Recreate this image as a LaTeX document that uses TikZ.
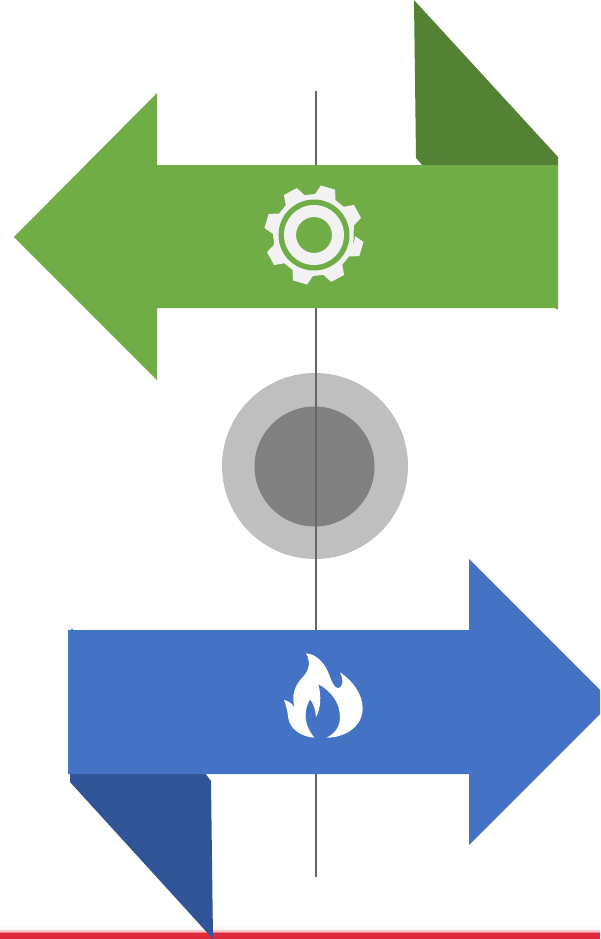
\documentclass[tikz,border=0pt]{standalone}
\definecolor{gA}{HTML}{70AD47}
\definecolor{gB}{HTML}{548235}
\definecolor{bA}{HTML}{4472C4}
\definecolor{bB}{HTML}{2F5597}
\definecolor{iconW}{HTML}{F2F2F2}
\definecolor{redbar}{HTML}{E0283C}
\begin{document}
\begin{tikzpicture}[x=1pt,y=-1pt]
\useasboundingbox (0,0) rectangle (600,939);
\clip (0,0) rectangle (600,939);
\fill[white] (0,0) rectangle (600,939);
% bottom bar
\fill[redbar!3] (0,926) rectangle (600,930);
\fill[redbar!25] (0,930) rectangle (600,931.5);
\fill[redbar!60] (0,931.5) rectangle (600,933);
\fill[redbar] (0,933) rectangle (600,939);
% circles
\fill[black!25] (315,466) circle (93);
\fill[black!50] (314.5,466.5) circle (60);
% axis
\draw[black!60,line width=1.5pt] (316,91) -- (316,877);
% green ribbon
\fill[gB] (414,0) -- (558,157) -- (558,166) -- (423,166) -- (416,158) -- cycle;
\fill[gA] (14,237) -- (157,93) -- (157,165) -- (558,165) -- (558,308) -- (557,310) -- (555,308) -- (157,308) -- (157,380) -- cycle;
% blue ribbon
\fill[bB] (70,773) -- (205,773) -- (211,781) -- (213,939) -- (70,782) -- cycle;
\fill[bA] (68,630) -- (71,630) -- (72,628) -- (73,630) -- (469,630) -- (469,559) -- (612,702) -- (469,845) -- (469,774) -- (68,774) -- cycle;
% gear
\begin{scope}[shift={(314,235)}]
\fill[iconW] (16.5:41)
  \foreach \a in {16.5,61.5,...,331.5}{
    -- (\a-15:41) -- (\a-8.5:50) -- (\a+8.5:50) -- (\a+15:41)
  } -- cycle;
\fill[gA] (0,0) circle (35.5);
\fill[iconW,even odd rule] (0,0) circle (30) (0,0) circle (18);
\end{scope}
% flame
\begin{scope}[shift={(270,640)},x=0.3333pt,y=-0.3333pt]
\fill[white] (108,40)
  .. controls (140,42) and (165,70) .. (178,105)
  .. controls (185,125) and (192,143) .. (205,145)
  .. controls (218,143) and (222,120) .. (210,97)
  .. controls (245,120) and (278,160) .. (278,205)
  .. controls (278,260) and (225,293) .. (170,293)
  .. controls (205,275) and (218,245) .. (205,200)
  .. controls (195,170) and (170,145) .. (145,133)
  .. controls (155,170) and (152,205) .. (138,232)
  .. controls (137,210) and (130,190) .. (120,178)
  .. controls (105,205) and (95,245) .. (133,293)
  .. controls (90,290) and (60,265) .. (55,235)
  .. controls (52,210) and (48,195) .. (42,180)
  .. controls (58,183) and (68,193) .. (75,205)
  .. controls (62,170) and (75,135) .. (95,115)
  .. controls (120,90) and (122,65) .. (108,40) -- cycle;
\end{scope}
\end{tikzpicture}
\end{document}
